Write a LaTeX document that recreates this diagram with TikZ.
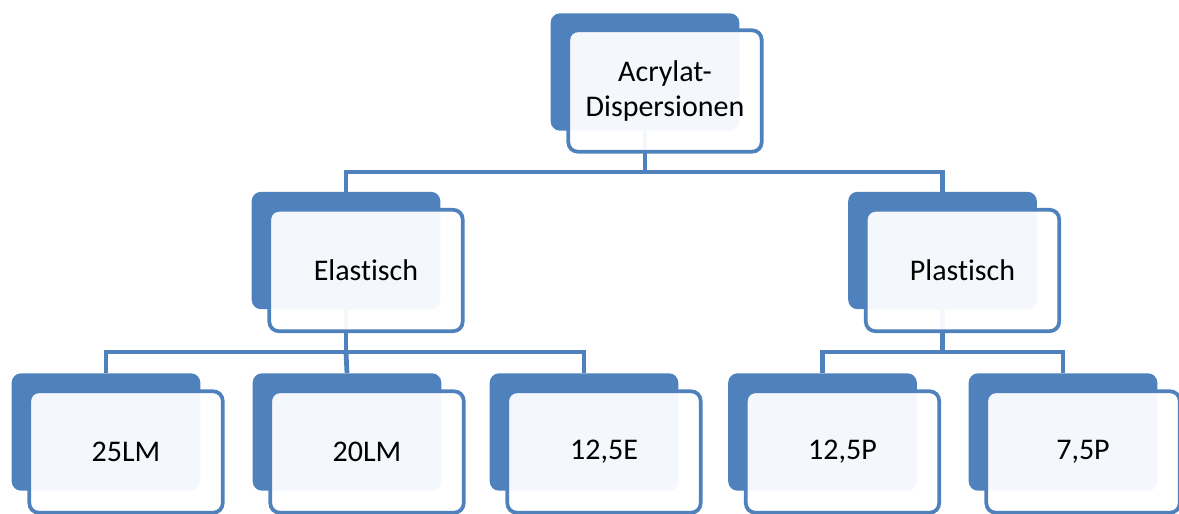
\documentclass[tikz,border=0pt]{standalone}
\usepackage{fontspec}
\setmainfont{Carlito}[Ligatures=NoCommon]
\usetikzlibrary{backgrounds}
\definecolor{sablue}{HTML}{4F81BD}
\begin{document}
\begin{tikzpicture}[x=0.75pt,y=-0.75pt,
  backcard/.style={rectangle,rounded corners=7pt,fill=sablue,minimum width=141.5pt,minimum height=88pt,inner sep=0pt},
  frontcard/.style={rectangle,rounded corners=7pt,draw=sablue,line width=2.8pt,fill=white,fill opacity=.94,text opacity=1,minimum width=145pt,minimum height=91pt,align=center,font=\fontsize{22.5}{26.5}\selectfont},
  conn/.style={draw=sablue,line width=3.6pt}]
\useasboundingbox (0,0) rectangle (1179,514);
\coordinate (bus1) at (0,172);
\coordinate (bus2) at (0,352);
% back cards
\node[backcard] (acr) at (645,72) {};
\node[backcard] (ela) at (346,250.5) {};
\node[backcard] (pla) at (942.5,250.5) {};
\foreach \n/\x in {lm25/106,lm20/347,e125/584,p125/822.5,p75/1063}
  \node[backcard] (\n) at (\x,432) {};
% front cards
\node[frontcard] (acr-f) at ([shift={(20,19)}]acr.center) {Acrylat-\\Dispersionen};
\node[frontcard] (ela-f) at ([shift={(20,20)}]ela.center) {Elastisch};
\node[frontcard] (pla-f) at ([shift={(20,20)}]pla.center) {Plastisch};
\foreach \n/\t in {lm25/25LM,lm20/20LM,e125/{12,5E},p125/{12,5P},p75/{7,5P}}
  \node[frontcard] (\n-f) at ([shift={(20,20)}]\n.center) {\t};
% connectors
\begin{scope}[on background layer]
\draw[conn] (acr.south) -- (acr.south |- bus1) -| (ela.north);
\draw[conn] (acr.south |- bus1) -| (pla.north);
\draw[conn] (ela.south) -- (ela.south |- bus2) -| (lm25.north);
\draw[conn] (ela.south |- bus2) -- (lm20.north);
\draw[conn] (ela.south |- bus2) -| (e125.north);
\draw[conn] (pla.south) -- (pla.south |- bus2) -| (p125.north);
\draw[conn] (pla.south |- bus2) -| (p75.north);
\end{scope}
\end{tikzpicture}
\end{document}
